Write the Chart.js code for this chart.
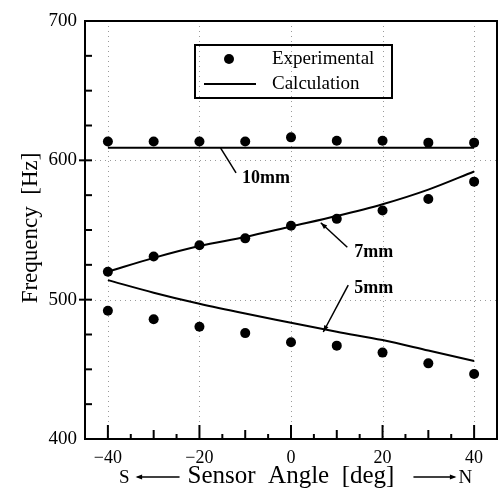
<!DOCTYPE html>
<html>
<head>
<meta charset="utf-8">
<script src="https://cdn.jsdelivr.net/npm/chart.js@4/dist/chart.umd.min.js"></script>
<style>
  html, body { margin: 0; padding: 0; background: #fff; }
  #wrap { width: 502px; height: 491px; }
</style>
</head>
<body>
<div id="wrap"><canvas id="freqChart"></canvas></div>
<script>
// Sensor angle [deg] and measured / calculated frequency [Hz]
const angles = [-40, -30, -20, -10, 0, 10, 20, 30, 40];

const exp10mm = [613.5, 613.5, 613.5, 613.5, 616.5, 614, 614, 612.7, 612.7];
const calc10mm = [609, 609, 609, 609, 609, 609, 609, 609, 609];

const exp7mm = [520, 531, 539, 544, 553, 558, 564, 572.3, 584.7];
const calc7mm = [520, 530, 538.5, 545, 552.5, 560, 568.5, 579, 592];

const exp5mm = [492, 486, 480.6, 476, 469.4, 467, 462, 454.3, 446.7];
const calc5mm = [514, 505, 497, 490, 483.5, 477, 471, 463.5, 456];

const xTickLabels = [-40, -20, 0, 20, 40];
const yTickLabels = [400, 500, 600, 700];

const serif = "'Liberation Serif', 'Times New Roman', serif";

// Curve labels with leader lines, in data coordinates
const curveNotes = [
    { text: '10mm', at: [-10.7, 587], from: [-15.4, 609], to: [-12.0, 591], arrow: false },
    { text: '7mm', at: [13.8, 534], from: [12.3, 537.6], to: [6.5, 555.2], arrow: true },
    { text: '5mm', at: [13.8, 508], from: [12.5, 510.5], to: [7.05, 476.8], arrow: true }
];

function toPoints(ys) {
    return angles.map((a, i) => ({ x: a, y: ys[i] }));
}

function expSet(label, ys) {
    return {
        label: label,
        data: toPoints(ys),
        showLine: false,
        pointRadius: 5,
        pointHoverRadius: 5,
        pointBackgroundColor: '#000',
        pointBorderColor: '#000',
        pointBorderWidth: 0
    };
}

function calcSet(label, ys) {
    return {
        label: label,
        data: toPoints(ys),
        showLine: true,
        borderColor: '#000',
        borderWidth: 2,
        pointRadius: 0,
        cubicInterpolationMode: 'monotone',
        fill: false
    };
}

function arrowHead(ctx, x1, y1, x2, y2, size) {
    const ang = Math.atan2(y2 - y1, x2 - x1);
    ctx.beginPath();
    ctx.moveTo(x2, y2);
    ctx.lineTo(x2 - size * Math.cos(ang - 0.35), y2 - size * Math.sin(ang - 0.35));
    ctx.lineTo(x2 - size * Math.cos(ang + 0.35), y2 - size * Math.sin(ang + 0.35));
    ctx.closePath();
    ctx.fill();
}

// Grid, frame, inward ticks, legend, labels and axis titles
const framePlugin = {
    id: 'frame',
    beforeDatasetsDraw(chart) {
        const { ctx, chartArea: a, scales: { x, y } } = chart;
        ctx.save();
        ctx.strokeStyle = '#9a9a9a';
        ctx.lineWidth = 1;
        ctx.setLineDash([1, 4]);
        xTickLabels.forEach(v => {
            const px = Math.round(x.getPixelForValue(v)) + 0.5;
            ctx.beginPath(); ctx.moveTo(px, a.top); ctx.lineTo(px, a.bottom); ctx.stroke();
        });
        [500, 600].forEach(v => {
            const py = Math.round(y.getPixelForValue(v)) + 0.5;
            ctx.beginPath(); ctx.moveTo(a.left, py); ctx.lineTo(a.right, py); ctx.stroke();
        });
        ctx.restore();
    },
    afterDraw(chart) {
        const { ctx, chartArea: a, scales: { x, y } } = chart;
        ctx.save();
        ctx.strokeStyle = '#000';
        ctx.fillStyle = '#000';
        ctx.setLineDash([]);

        // frame
        ctx.lineWidth = 2;
        ctx.strokeRect(a.left, a.top, a.right - a.left, a.bottom - a.top);

        // x ticks every 5 deg
        ctx.lineWidth = 2;
        for (let v = -40; v <= 40; v += 5) {
            const px = x.getPixelForValue(v);
            const len = v % 20 === 0 ? 14 : (v % 10 === 0 ? 9 : 5);
            ctx.beginPath(); ctx.moveTo(px, a.bottom); ctx.lineTo(px, a.bottom - len); ctx.stroke();
        }
        // y ticks every 25 Hz
        for (let v = 425; v < 700; v += 25) {
            const py = y.getPixelForValue(v);
            const major = v % 100 === 0;
            ctx.beginPath();
            ctx.moveTo(a.left - (major ? 6 : 0), py);
            ctx.lineTo(a.left + 7, py);
            ctx.stroke();
        }

        // legend
        const lx = 195, ly = 45, lw = 197, lh = 53;
        ctx.lineWidth = 2;
        ctx.strokeRect(lx, ly, lw, lh);
        ctx.beginPath(); ctx.arc(229, 59, 5, 0, Math.PI * 2); ctx.fill();
        ctx.lineWidth = 2;
        ctx.beginPath(); ctx.moveTo(204, 84); ctx.lineTo(256, 84); ctx.stroke();
        ctx.font = '19px ' + serif;
        ctx.textAlign = 'left';
        ctx.textBaseline = 'middle';
        ctx.fillText('Experimental', 272, 59);
        ctx.fillText('Calculation', 272, 84);

        // curve labels
        ctx.font = 'bold 18px ' + serif;
        ctx.lineWidth = 1.5;
        curveNotes.forEach(n => {
            const fx = x.getPixelForValue(n.from[0]), fy = y.getPixelForValue(n.from[1]);
            const tx = x.getPixelForValue(n.to[0]), ty = y.getPixelForValue(n.to[1]);
            ctx.beginPath(); ctx.moveTo(fx, fy); ctx.lineTo(tx, ty); ctx.stroke();
            if (n.arrow) arrowHead(ctx, fx, fy, tx, ty, 7);
            ctx.fillText(n.text, x.getPixelForValue(n.at[0]), y.getPixelForValue(n.at[1]));
        });

        // x title with direction arrows
        const cx = (a.left + a.right) / 2;
        const base = 483;
        ctx.textBaseline = 'alphabetic';
        ctx.font = '25px ' + serif;
        const title = 'Sensor  Angle  [deg]';
        const tw = ctx.measureText(title).width;
        ctx.textAlign = 'center';
        ctx.fillText(title, cx, base);
        const t0 = cx - tw / 2, t1 = cx + tw / 2;
        ctx.lineWidth = 1.5;
        const ay = base - 6;
        ctx.beginPath(); ctx.moveTo(t0 - 8, ay); ctx.lineTo(t0 - 50, ay); ctx.stroke();
        arrowHead(ctx, t0 - 8, ay, t0 - 52, ay, 7);
        ctx.beginPath(); ctx.moveTo(t1 + 19, ay); ctx.lineTo(t1 + 60, ay); ctx.stroke();
        arrowHead(ctx, t1 + 19, ay, t1 + 62, ay, 7);
        ctx.font = '19px ' + serif;
        ctx.textAlign = 'right';
        ctx.fillText('S', t0 - 58, base);
        ctx.textAlign = 'left';
        ctx.fillText('N', t1 + 64, base);

        // y title
        ctx.save();
        ctx.translate(31, (a.top + a.bottom) / 2 - 2);
        ctx.rotate(-Math.PI / 2);
        ctx.font = '23px ' + serif;
        ctx.textAlign = 'center';
        ctx.textBaseline = 'middle';
        ctx.fillText('Frequency  [Hz]', 0, 0);
        ctx.restore();

        ctx.restore();
    }
};

const ctx = document.getElementById('freqChart').getContext('2d');

new Chart(ctx, {
    type: 'scatter',
    data: {
        datasets: [
            calcSet('Calculation 10mm', calc10mm),
            calcSet('Calculation 7mm', calc7mm),
            calcSet('Calculation 5mm', calc5mm),
            expSet('Experimental 10mm', exp10mm),
            expSet('Experimental 7mm', exp7mm),
            expSet('Experimental 5mm', exp5mm)
        ]
    },
    options: {
        responsive: true,
        maintainAspectRatio: false,
        animation: false,
        layout: { padding: { top: 21, right: 2, left: 0, bottom: 0 } },
        plugins: {
            legend: { display: false },
            tooltip: { enabled: false }
        },
        scales: {
            x: {
                type: 'linear',
                min: -45,
                max: 45,
                grid: { display: false, drawTicks: false },
                border: { display: false },
                afterBuildTicks: scale => { scale.ticks = xTickLabels.map(v => ({ value: v })); },
                afterFit: scale => { scale.height = 52; },
                ticks: {
                    padding: 8,
                    color: '#000',
                    font: { family: serif, size: 18 },
                    callback: v => (v < 0 ? '\u2212' + Math.abs(v) : String(v))
                }
            },
            y: {
                type: 'linear',
                min: 400,
                max: 700,
                grid: { display: false, drawTicks: false },
                border: { display: false },
                afterBuildTicks: scale => { scale.ticks = yTickLabels.map(v => ({ value: v })); },
                afterFit: scale => { scale.width = 85; },
                ticks: {
                    padding: 8,
                    color: '#000',
                    font: { family: serif, size: 19 }
                }
            }
        }
    },
    plugins: [framePlugin]
});
</script>
</body>
</html>
